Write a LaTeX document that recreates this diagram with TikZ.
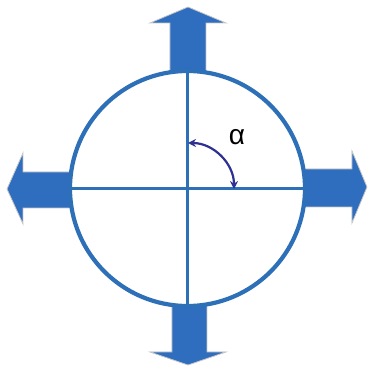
\documentclass[tikz,border=0pt]{standalone}
\usepackage{fontspec}
\setmainfont{Liberation Sans}
\usetikzlibrary{arrows.meta}
\definecolor{mainblue}{HTML}{2E70B8}
\definecolor{arrowblue}{HTML}{2F6DBE}
\definecolor{navy}{HTML}{2E3192}
\tikzset{
  bigarrow/.style={fill=arrowblue, draw=gray!45, line width=0.8pt, line join=miter},
  ring/.style={draw=mainblue, line width=4.2pt, circle, minimum size=235pt, inner sep=0pt},
  axis/.style={draw=mainblue, line width=3.6pt},
  angarrow/.style={draw=navy, line width=2.2pt, {Stealth[length=8pt,width=8pt]}-{Stealth[length=8pt,width=8pt]}},
  lbl/.style={font=\fontsize{28}{28}\selectfont, inner sep=0pt}
}
\begin{document}
\begin{tikzpicture}[x=1pt,y=1pt]
\useasboundingbox (0,0) rectangle (368,-366);
% arrows
\path[bigarrow] (188,-7) -- (226,-23) -- (206,-23) -- (206,-90) -- (170,-90) -- (170,-23) -- (150,-23) -- cycle;
\path[bigarrow] (188,-365) -- (226,-352) -- (207,-352) -- (207,-290) -- (172,-290) -- (172,-352) -- (150,-352) -- cycle;
\path[bigarrow] (7,-189) -- (23,-153) -- (23,-172) -- (90,-172) -- (90,-208) -- (23,-208) -- (23,-224) -- cycle;
\path[bigarrow] (367,-187) -- (352,-151) -- (352,-169) -- (290,-169) -- (290,-207) -- (352,-207) -- (352,-223) -- cycle;
% circle
\node[ring, fill=white] (c) at (187.5,-188.5) {};
\draw[axis] (c.north) -- (c.south);
\draw[axis] (c.west) -- (c.east);
\coordinate (o) at (188,-189);
\draw[angarrow] ([shift={(90:46)}]o) arc[start angle=90, end angle=0, radius=46];
\node[lbl] (alpha) at (237,-137) {α};
\end{tikzpicture}
\end{document}
